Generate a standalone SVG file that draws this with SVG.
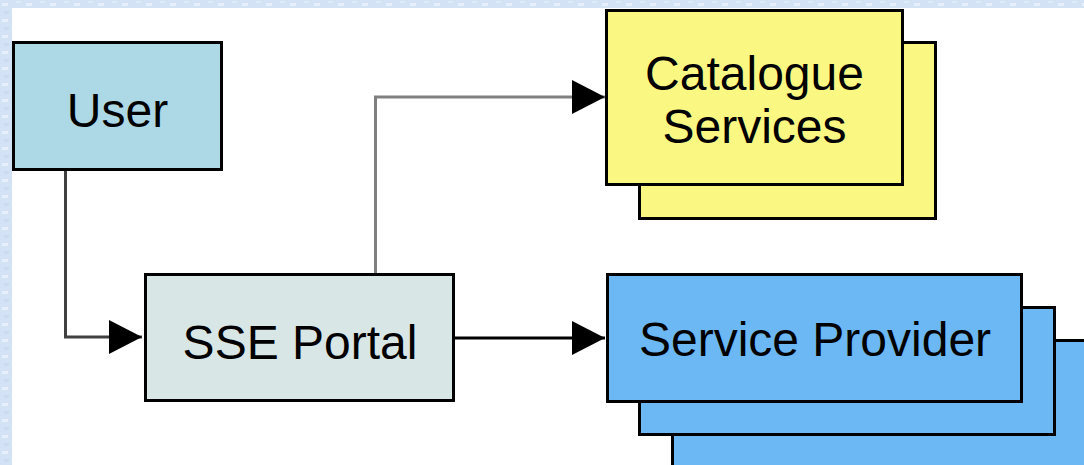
<svg xmlns="http://www.w3.org/2000/svg" width="1084" height="465" viewBox="0 0 1084 465">
  <defs>
    <pattern id="tex" width="24" height="16" patternUnits="userSpaceOnUse">
      <rect width="24" height="16" fill="#d3e3f5"/>
      <rect x="2" y="3" width="6" height="3" fill="#e6effa"/>
      <rect x="13" y="9" width="7" height="3" fill="#c4d8ef"/>
      <rect x="16" y="1" width="5" height="2" fill="#dfeaf8"/>
      <rect x="4" y="11" width="5" height="3" fill="#cadcf1"/>
    </pattern>
    <marker id="arrow" markerUnits="userSpaceOnUse" markerWidth="33" markerHeight="34" viewBox="0 0 33 34" refX="33" refY="17" orient="auto">
      <path d="M0 0 L33 17 L0 34 Z" fill="#000"/>
    </marker>
  </defs>
  <style>
    .box { stroke: #000; stroke-width: 3; }
    .lbl { font-family: "Liberation Sans", Arial, sans-serif; font-size: 48px; fill: #000; text-anchor: middle; }
    .conn { fill: none; stroke-width: 3; marker-end: url(#arrow); }
  </style>
  <rect width="1084" height="465" fill="url(#tex)"/>
  <rect x="12" y="8" width="1072" height="457" fill="#fff"/>

  <g id="connectors">
    <path class="conn" d="M65.5 171 V337 H142" stroke="#404040"/>
    <path class="conn" d="M375.5 273 V97 H605" stroke="#808080"/>
    <path class="conn" d="M455 338 H605" stroke="#000"/>
  </g>

  <g id="user">
    <rect class="box" x="13.5" y="42.5" width="208" height="127" fill="#add8e6"/>
    <text class="lbl" x="117.5" y="127">User</text>
  </g>

  <g id="sse-portal">
    <rect class="box" x="145.5" y="274.5" width="308" height="126" fill="#d8e6e6"/>
    <text class="lbl" x="300" y="359">SSE Portal</text>
  </g>

  <g id="catalogue-services">
    <rect class="box" x="639.5" y="42.5" width="296" height="176" fill="#faf882"/>
    <rect class="box" x="606.5" y="10.5" width="296" height="174" fill="#faf882"/>
    <text class="lbl" x="754.5" y="90">Catalogue</text>
    <text class="lbl" x="754.5" y="143">Services</text>
  </g>

  <g id="service-provider">
    <rect class="box" x="672.5" y="340.5" width="415" height="127" fill="#6cb8f4"/>
    <rect class="box" x="639.5" y="307.5" width="415" height="127" fill="#6cb8f4"/>
    <rect class="box" x="607.5" y="274.5" width="414" height="127" fill="#6cb8f4"/>
    <text class="lbl" x="815" y="356">Service Provider</text>
  </g>
</svg>
